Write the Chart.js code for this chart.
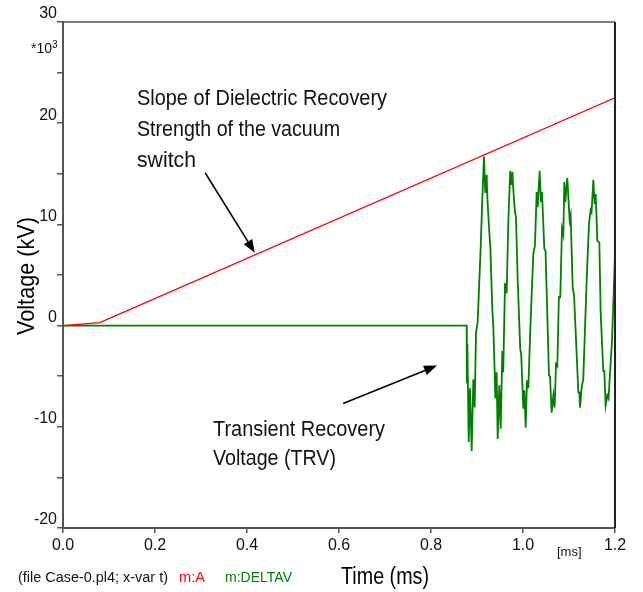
<!DOCTYPE html>
<html>
<head>
<meta charset="utf-8">
<script src="https://cdn.jsdelivr.net/npm/chart.js@4.4.0/dist/chart.umd.min.js"></script>
<style>
  html, body { margin: 0; padding: 0; background: #fff; }
  #wrap { width: 643px; height: 592px; }
</style>
</head>
<body>
<div id="wrap"><canvas id="trvChart" width="643" height="592"></canvas></div>
<script>
// red: dielectric recovery strength (kV) vs time (ms)
const tRed = [0, 0.08, 1.2];
const vRed = [0, 0.3, 22.5];

// green: voltage across the switch (kV) vs time (ms)
const tGreen = [0, 0.8775, 0.8778, 0.878, 0.879, 0.882, 0.8848, 0.8884, 0.892, 0.895, 0.8978,
  0.9014, 0.908, 0.9116, 0.9152, 0.918, 0.921, 0.9225, 0.9268, 0.929, 0.9333, 0.9355,
  0.9384, 0.9398, 0.9427, 0.945, 0.9485, 0.9515, 0.955, 0.957, 0.9609, 0.9645, 0.968,
  0.9722, 0.9745, 0.977, 0.979, 0.9826, 0.9848, 0.9884, 0.994, 0.996, 1.0007, 1.003,
  1.0058, 1.0087, 1.0116, 1.016, 1.0224, 1.026, 1.0297, 1.0319, 1.0362, 1.039, 1.0413,
  1.0463, 1.049, 1.0565, 1.0587, 1.0623, 1.066, 1.0688, 1.0717, 1.0746, 1.078, 1.081,
  1.0848, 1.0877, 1.0898, 1.092, 1.0963, 1.1014, 1.1036, 1.108, 1.111, 1.1203, 1.1225,
  1.1239, 1.1275, 1.131, 1.1384, 1.1435, 1.147, 1.149, 1.1529, 1.1558, 1.158, 1.1616,
  1.166, 1.1688, 1.1746, 1.1768, 1.1797, 1.1833, 1.186, 1.189, 1.1935, 1.2];
const vGreen = [0, 0, -1.65, -5.7, -1.8, -11.5, -6.2, -12.4, -5.3, -8.1, -0.7,
  0.3, 7.75, 12.6, 16.7, 13.1, 14.9, 12.6, 9.2, 7.75, 1.7, -0.2,
  -4.5, -7.2, -4.6, -11.2, -5.9, -10.2, -2.5, -4.6, 4.2, 3.2, 10.1,
  15.3, 13.9, 15.2, 13.4, 11.2, 10.7, 4.6, -2.3, -2.8, -8.2, -6.4,
  -10.1, -5.4, -6.2, -0.2, 7.1, 7.9, 13.2, 11.7, 15.3, 12.2, 13.2,
  7.6, 7.4, -4.95, -5.0, -8.6, -6.9, -8.1, -3.8, -4.0, 2.8, 2.8,
  9.6, 9.0, 14.2, 12.2, 14.6, 10.4, 10.9, 3.8, 3.0, -6.6, -6.6,
  -8.1, -6.1, -5.3, 4.5, 10.1, 11.4, 11.2, 14.4, 12.0, 13.0, 8.4,
  8.2, 1.3, -4.5, -4.5, -7.9, -6.9, -7.2, -4.8, -1.5, 7.1];

const xTicks = [0, 0.2, 0.4, 0.6, 0.8, 1.0, 1.2];
const yLabelled = [-20, -10, 0, 10, 20, 30];

// arrows in data coordinates [t0, v0, t1, v1]
const arrows = [
  [0.309, 15.1, 0.417, 7.2],
  [0.609, -7.7, 0.813, -3.95]
];

const FONT = "'Liberation Sans', Arial, sans-serif";
const NARROW = "'Liberation Sans Narrow', 'Arial Narrow', 'Liberation Sans', sans-serif";

function fitText(ctx, text, x, y, w) {
  ctx.fillText(text, x, y, w);
}

const decorPlugin = {
  id: "decor",
  afterDraw(chart) {
    const { ctx, chartArea: a, scales } = chart;
    ctx.save();

    // box top & right
    ctx.strokeStyle = "#555";
    ctx.lineWidth = 1.5;
    ctx.beginPath();
    ctx.moveTo(a.left, a.top);
    ctx.lineTo(a.right, a.top);
    ctx.stroke();
    ctx.strokeStyle = "#222";
    ctx.lineWidth = 2;
    ctx.beginPath();
    ctx.moveTo(a.right, a.top);
    ctx.lineTo(a.right, a.bottom);
    ctx.stroke();

    // arrows
    ctx.strokeStyle = "#000";
    ctx.fillStyle = "#000";
    ctx.lineWidth = 1.6;
    arrows.forEach(([t0, v0, t1, v1]) => {
      const x0 = scales.x.getPixelForValue(t0), y0 = scales.y.getPixelForValue(v0);
      const x1 = scales.x.getPixelForValue(t1), y1 = scales.y.getPixelForValue(v1);
      const ang = Math.atan2(y1 - y0, x1 - x0);
      const len = 13, half = 5;
      const bx = x1 - len * Math.cos(ang), by = y1 - len * Math.sin(ang);
      ctx.beginPath();
      ctx.moveTo(x0, y0);
      ctx.lineTo(bx, by);
      ctx.stroke();
      ctx.beginPath();
      ctx.moveTo(x1, y1);
      ctx.lineTo(bx + half * Math.sin(ang), by - half * Math.cos(ang));
      ctx.lineTo(bx - half * Math.sin(ang), by + half * Math.cos(ang));
      ctx.closePath();
      ctx.fill();
    });

    // annotation texts
    ctx.fillStyle = "#111";
    ctx.textAlign = "left";
    ctx.textBaseline = "alphabetic";
    ctx.font = "22px " + FONT;
    fitText(ctx, "Slope of Dielectric Recovery", 137, 105, 250);
    fitText(ctx, "Strength of the vacuum", 137, 136, 203);
    fitText(ctx, "switch", 137, 167, 59);
    fitText(ctx, "Transient Recovery", 213, 436, 172);
    fitText(ctx, "Voltage (TRV)", 213, 465, 123);

    // multiplier
    ctx.font = "14px " + FONT;
    fitText(ctx, "*10", 31, 53, 21);
    ctx.font = "10px " + FONT;
    ctx.fillText("3", 52, 48);

    // unit on x axis
    ctx.font = "13px " + FONT;
    fitText(ctx, "[ms]", 557, 556, 26);

    // axis titles
    ctx.font = "23px " + FONT;
    ctx.textAlign = "center";
    ctx.fillStyle = "#000";
    fitText(ctx, "Time (ms)", 385, 584, 88);
    ctx.save();
    ctx.translate(34, 276);
    ctx.rotate(-Math.PI / 2);
    ctx.font = "24px " + FONT;
    fitText(ctx, "Voltage (kV)", 0, 0, 118);
    ctx.restore();

    // file legend
    ctx.textAlign = "left";
    ctx.font = "15px " + FONT;
    ctx.fillStyle = "#111";
    fitText(ctx, "(file Case-0.pl4; x-var t)", 18, 582, 150);
    ctx.fillStyle = "#ff0000";
    fitText(ctx, "m:A", 179, 582, 26);
    ctx.fillStyle = "#008000";
    fitText(ctx, "m:DELTAV", 225, 582, 67);

    ctx.restore();
  }
};

new Chart(document.getElementById("trvChart"), {
  type: "line",
  data: {
    datasets: [
      {
        label: "m:A",
        data: tRed.map((t, i) => ({ x: t, y: vRed[i] })),
        borderColor: "#ff0000",
        borderWidth: 1.3,
        pointRadius: 0,
        tension: 0
      },
      {
        label: "m:DELTAV",
        data: tGreen.map((t, i) => ({ x: t, y: vGreen[i] })),
        borderColor: "#008000",
        borderWidth: 1.8,
        pointRadius: 0,
        tension: 0
      }
    ]
  },
  options: {
    responsive: false,
    animation: false,
    layout: { padding: { left: 0, top: 22, right: 28, bottom: 0 } },
    plugins: {
      legend: { display: false },
      tooltip: { enabled: false }
    },
    scales: {
      x: {
        type: "linear",
        min: 0,
        max: 1.2,
        afterFit: s => { s.height = 64; },
        afterBuildTicks: s => { s.ticks = xTicks.map(v => ({ value: v })); },
        border: { color: "#555", width: 2 },
        grid: { drawOnChartArea: false, drawTicks: true, tickLength: 5, color: "#555", lineWidth: 1.5 },
        ticks: {
          padding: 3,
          color: "#111",
          font: { family: NARROW, size: 16 },
          maxRotation: 0,
          callback: v => v.toFixed(1)
        }
      },
      y: {
        min: -20,
        max: 30,
        afterFit: s => { s.width = 63; },
        border: { color: "#555", width: 2 },
        grid: { drawOnChartArea: false, drawTicks: true, tickLength: 6, color: "#555", lineWidth: 1.5 },
        ticks: {
          stepSize: 5,
          padding: 0,
          labelOffset: -8,
          color: "#111",
          font: { family: NARROW, size: 16 },
          callback: v => (yLabelled.includes(v) ? String(v) : "")
        }
      }
    }
  },
  plugins: [decorPlugin]
});
</script>
</body>
</html>
